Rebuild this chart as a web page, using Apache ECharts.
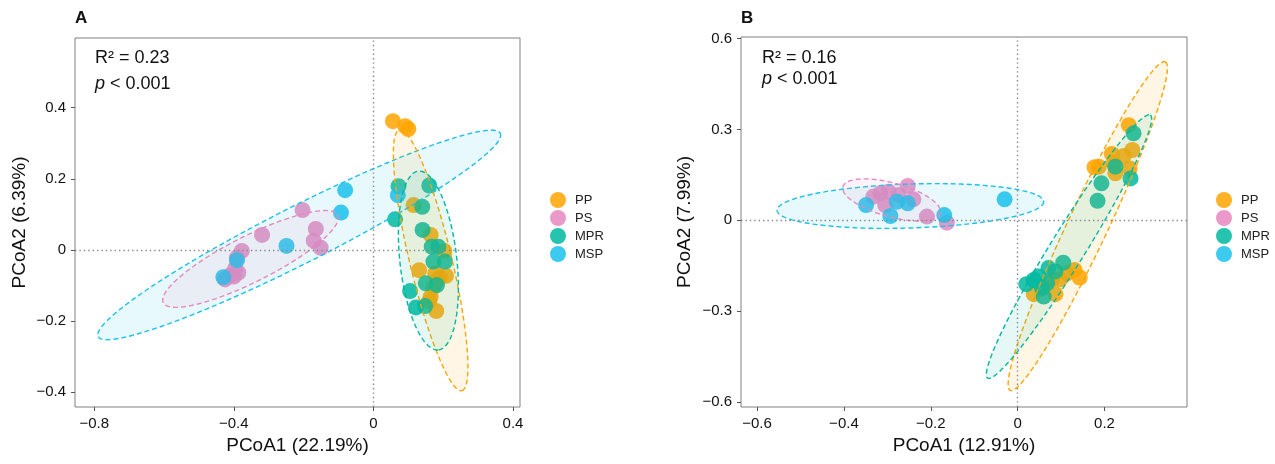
<!DOCTYPE html>
<html>
<head>
<meta charset="utf-8">
<script src="https://cdn.jsdelivr.net/npm/echarts@6/dist/echarts.min.js"></script>
<style>
  html, body { margin: 0; padding: 0; background: #fff; }
  #chart { width: 1275px; height: 464px; }
</style>
</head>
<body>
<div id="chart"></div>
<script>
// groups and colours
const groups = ["PP", "PS", "MPR", "MSP"];
const colors = { PP: "#FFA500", PS: "#E887BE", MPR: "#00B8A0", MSP: "#1BC1EC" };

// panel A points [PCoA1, PCoA2]
const ppA = [[0.056,0.362],[0.091,0.348],[0.100,0.340],[0.115,0.126],[0.164,0.042],[0.203,-0.003],
  [0.131,-0.057],[0.177,-0.066],[0.208,-0.073],[0.190,-0.078],[0.183,-0.086],[0.172,-0.105],
  [0.164,-0.132],[0.160,-0.145],[0.180,-0.172]];
const psA = [[-0.203,0.112],[-0.165,0.059],[-0.319,0.042],[-0.171,0.026],[-0.151,0.006],[-0.377,-0.003],
  [-0.391,-0.022],[-0.396,-0.052],[-0.387,-0.064],[-0.400,-0.075],[-0.410,-0.071],[-0.425,-0.083]];
const mprA = [[0.072,0.179],[0.160,0.181],[0.140,0.121],[0.062,0.086],[0.141,0.056],[0.167,0.009],
  [0.186,0.009],[0.172,-0.033],[0.205,-0.033],[0.150,-0.094],[0.182,-0.099],[0.105,-0.116],
  [0.122,-0.162],[0.148,-0.158]];
const mspA = [[-0.081,0.168],[-0.093,0.105],[0.070,0.154],[-0.249,0.011],[-0.391,-0.029],[-0.430,-0.077]];

// panel B points
const ppB = [[0.256,0.314],[0.264,0.232],[0.244,0.212],[0.217,0.219],[0.187,0.177],[0.177,0.175],
  [0.221,0.188],[0.258,0.171],[0.225,0.155],[0.037,-0.244],[0.087,-0.244],[0.079,-0.195],
  [0.098,-0.195],[0.114,-0.175],[0.131,-0.164],[0.143,-0.189]];
const psB = [[-0.253,0.113],[-0.316,0.089],[-0.297,0.094],[-0.332,0.078],[-0.274,0.083],[-0.240,0.069],
  [-0.305,0.050],[-0.209,0.012],[-0.163,-0.008]];
const mprB = [[0.267,0.287],[0.260,0.138],[0.193,0.122],[0.184,0.064],[0.225,0.177],[0.020,-0.211],
  [0.048,-0.186],[0.071,-0.158],[0.105,-0.140],[0.060,-0.252],[0.037,-0.197],[0.068,-0.208],
  [0.056,-0.224],[0.087,-0.169]];
const mspB = [[-0.030,0.069],[-0.349,0.050],[-0.253,0.056],[-0.278,0.061],[-0.293,0.014],[-0.169,0.017]];

// ellipses: [cx, cy, semi-axis1 dx, dy, semi-axis2 dx, dy]
const ellA = {
  MSP: [-0.2125, 0.042, 0.576, 0.286, 0.037, -0.071],
  PS:  [-0.352, -0.0255, 0.25, 0.1233, 0.0296, -0.0577],
  PP:  [0.164, -0.029, 0.0894, -0.367, 0.0585, 0.0137],
  MPR: [0.1575, -0.030, 0.0287, -0.2514, 0.0811, 0.009]
};
const ellB = {
  MSP: [-0.247, 0.047, 0.307, 0.0142, 0.0016, -0.0725],
  PS:  [-0.29, 0.067, 0.1122, -0.0439, -0.0104, -0.054],
  PP:  [0.1615, -0.0195, 0.1786, 0.5424, 0.0417, -0.028],
  MPR: [0.1183, -0.087, 0.1873, 0.4342, 0.0339, -0.030]
};

// tick values
const xTicksA = [-0.8, -0.4, 0, 0.4];
const yTicksA = [-0.4, -0.2, 0, 0.2, 0.4];
const xTicksB = [-0.6, -0.4, -0.2, 0, 0.2];
const yTicksB = [-0.6, -0.3, 0, 0.3, 0.6];

const font = "'Liberation Sans', Arial, sans-serif";

function fmt(v) {
  return v === 0 ? "0" : String(v).replace("-", "\u2212");
}

function hexA(hex, a) {
  const n = parseInt(hex.slice(1), 16);
  return "rgba(" + (n >> 16) + "," + ((n >> 8) & 255) + "," + (n & 255) + "," + a + ")";
}

function makeAxis(idx, ticks, min, max, name, gap) {
  return {
    type: "value",
    gridIndex: idx,
    min: min,
    max: max,
    name: name,
    nameLocation: "middle",
    nameGap: gap,
    nameTextStyle: { fontFamily: font, fontSize: 19, color: "#111" },
    axisLine: { show: false, onZero: false },
    axisTick: { show: true, length: 4, lineStyle: { color: "#555" }, customValues: ticks },
    axisLabel: {
      fontFamily: font, fontSize: 15, color: "#111", margin: 9,
      customValues: ticks, formatter: fmt
    },
    splitLine: { show: false }
  };
}

function ellipseSeries(name, params, idx) {
  const col = colors[name];
  return {
    type: "custom",
    name: name,
    xAxisIndex: idx,
    yAxisIndex: idx,
    silent: true,
    z: 3,
    data: [params],
    renderItem: function (p, api) {
      const cx = api.value(0), cy = api.value(1);
      const ax = api.value(2), ay = api.value(3), bx = api.value(4), by = api.value(5);
      const pts = [];
      for (let k = 0; k < 160; k++) {
        const t = 2 * Math.PI * k / 160;
        pts.push(api.coord([cx + Math.cos(t) * ax + Math.sin(t) * bx,
                            cy + Math.cos(t) * ay + Math.sin(t) * by]));
      }
      return {
        type: "polygon",
        shape: { points: pts },
        style: { fill: hexA(col, 0.1), stroke: col, lineWidth: 1.4, lineDash: [5, 3] }
      };
    }
  };
}

function pointSeries(name, data, idx) {
  return {
    type: "scatter",
    name: name,
    xAxisIndex: idx,
    yAxisIndex: idx,
    symbolSize: 16,
    z: 2,
    itemStyle: { color: colors[name], opacity: 0.85 },
    data: data
  };
}

function zeroLines(idx) {
  return {
    type: "scatter",
    xAxisIndex: idx,
    yAxisIndex: idx,
    data: [],
    z: 1,
    markLine: {
      silent: true,
      symbol: "none",
      label: { show: false },
      lineStyle: { type: [1.4, 3], color: "#888", width: 1.4 },
      data: [{ xAxis: 0 }, { yAxis: 0 }]
    }
  };
}

const pointsA = { PP: ppA, PS: psA, MPR: mprA, MSP: mspA };
const pointsB = { PP: ppB, PS: psB, MPR: mprB, MSP: mspB };

const series = [zeroLines(0), zeroLines(1)];
groups.forEach(g => series.push(pointSeries(g, pointsA[g], 0)));
groups.forEach(g => series.push(pointSeries(g, pointsB[g], 1)));
["MSP", "PS", "PP", "MPR"].forEach(g => series.push(ellipseSeries(g, ellA[g], 0)));
["MSP", "PS", "PP", "MPR"].forEach(g => series.push(ellipseSeries(g, ellB[g], 1)));

function legendAt(left) {
  return {
    data: groups,
    orient: "vertical",
    left: left,
    top: 187,
    icon: "circle",
    itemWidth: 16,
    itemHeight: 16,
    itemGap: 2,
    selectedMode: false,
    textStyle: { fontFamily: font, fontSize: 13, color: "#222", padding: [0, 0, 0, 4] }
  };
}

const chart = echarts.init(document.getElementById("chart"), null, { renderer: "canvas" });
chart.setOption({
  backgroundColor: "#fff",
  animation: false,
  grid: [
    { left: 75, top: 38, width: 445, height: 369, show: true, borderColor: "#808080", borderWidth: 1 },
    { left: 741, top: 37, width: 446, height: 370, show: true, borderColor: "#808080", borderWidth: 1 }
  ],
  xAxis: [
    makeAxis(0, xTicksA, -0.855, 0.42, "PCoA1 (22.19%)", 27),
    makeAxis(1, xTicksB, -0.637, 0.39, "PCoA1 (12.91%)", 27)
  ],
  yAxis: [
    makeAxis(0, yTicksA, -0.442, 0.596, "PCoA2 (6.39%)", 46),
    makeAxis(1, yTicksB, -0.6166, 0.605, "PCoA2 (7.99%)", 47)
  ],
  legend: [legendAt(545), legendAt(1211)],
  graphic: [
    { type: "text", left: 75, top: 10, style: { text: "A", font: "bold 17px " + font, fill: "#111" } },
    { type: "text", left: 741, top: 10, style: { text: "B", font: "bold 17px " + font, fill: "#111" } },
    { type: "text", left: 95, top: 49, style: { text: "R\u00b2 = 0.23", font: "18px " + font, fill: "#111" } },
    { type: "text", left: 95, top: 75, style: {
        text: "{i|p} < 0.001", font: "18px " + font, fill: "#111",
        rich: { i: { fontStyle: "italic", fontSize: 18, fontFamily: font } } } },
    { type: "text", left: 762, top: 49, style: { text: "R\u00b2 = 0.16", font: "18px " + font, fill: "#111" } },
    { type: "text", left: 762, top: 70, style: {
        text: "{i|p} < 0.001", font: "18px " + font, fill: "#111",
        rich: { i: { fontStyle: "italic", fontSize: 18, fontFamily: font } } } }
  ],
  series: series
});
</script>
</body>
</html>
